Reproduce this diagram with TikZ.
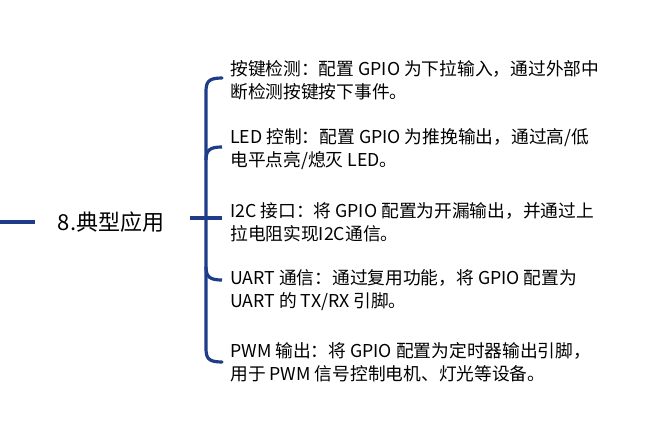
\documentclass[tikz,border=0pt]{standalone}
\usepackage{fontspec}
\setmainfont{Noto Sans CJK SC}
\definecolor{br}{HTML}{1F3C88}
\begin{document}
\begin{tikzpicture}[x=0.75pt,y=-0.75pt,
  ln/.style={draw=br,line width=2.4pt},
  item/.style={anchor=west,align=left,font=\fontsize{13.3pt}{17.5pt}\selectfont,inner sep=0pt}]
\useasboundingbox (0,0) rectangle (655,446);
\coordinate (l0) at (0,222);
\coordinate (l1) at (35,222);
\draw[ln] (l0) -- (l1);
\node[font=\fontsize{16.5pt}{18pt}\selectfont] (t) at (111,222) {8.典型应用};
\coordinate (s0) at (190,218);
\coordinate (s1) at (222,218);
\draw[ln] (s0) -- (s1);
\draw[ln,line cap=round] (222,78) .. controls (208,78) and (206,82) .. (206,92) -- (206,348) .. controls (206,358) and (208,362) .. (222,362);
\draw[ln] (206,160) .. controls (206,150) and (210,147) .. (222,147);
\draw[ln] (206,267) .. controls (206,277) and (210,280) .. (222,280);
\node[item] (a) at (230,80) {按键检测：配置 GPIO 为下拉输入，通过外部中\\断检测按键按下事件。};
\node[item] (b) at (230,149) {LED 控制：配置 GPIO 为推挽输出，通过高/低\\电平点亮/熄灭 LED。};
\node[item] (c) at (230,222) {I2C 接口：将 GPIO 配置为开漏输出，并通过上\\拉电阻实现I2C通信。};
\node[item] (d) at (230,290) {UART 通信：通过复用功能，将 GPIO 配置为\\UART 的 TX/RX 引脚。};
\node[item] (e) at (230,362) {PWM 输出：将 GPIO 配置为定时器输出引脚，\\用于 PWM 信号控制电机、灯光等设备。};
\end{tikzpicture}
\end{document}
